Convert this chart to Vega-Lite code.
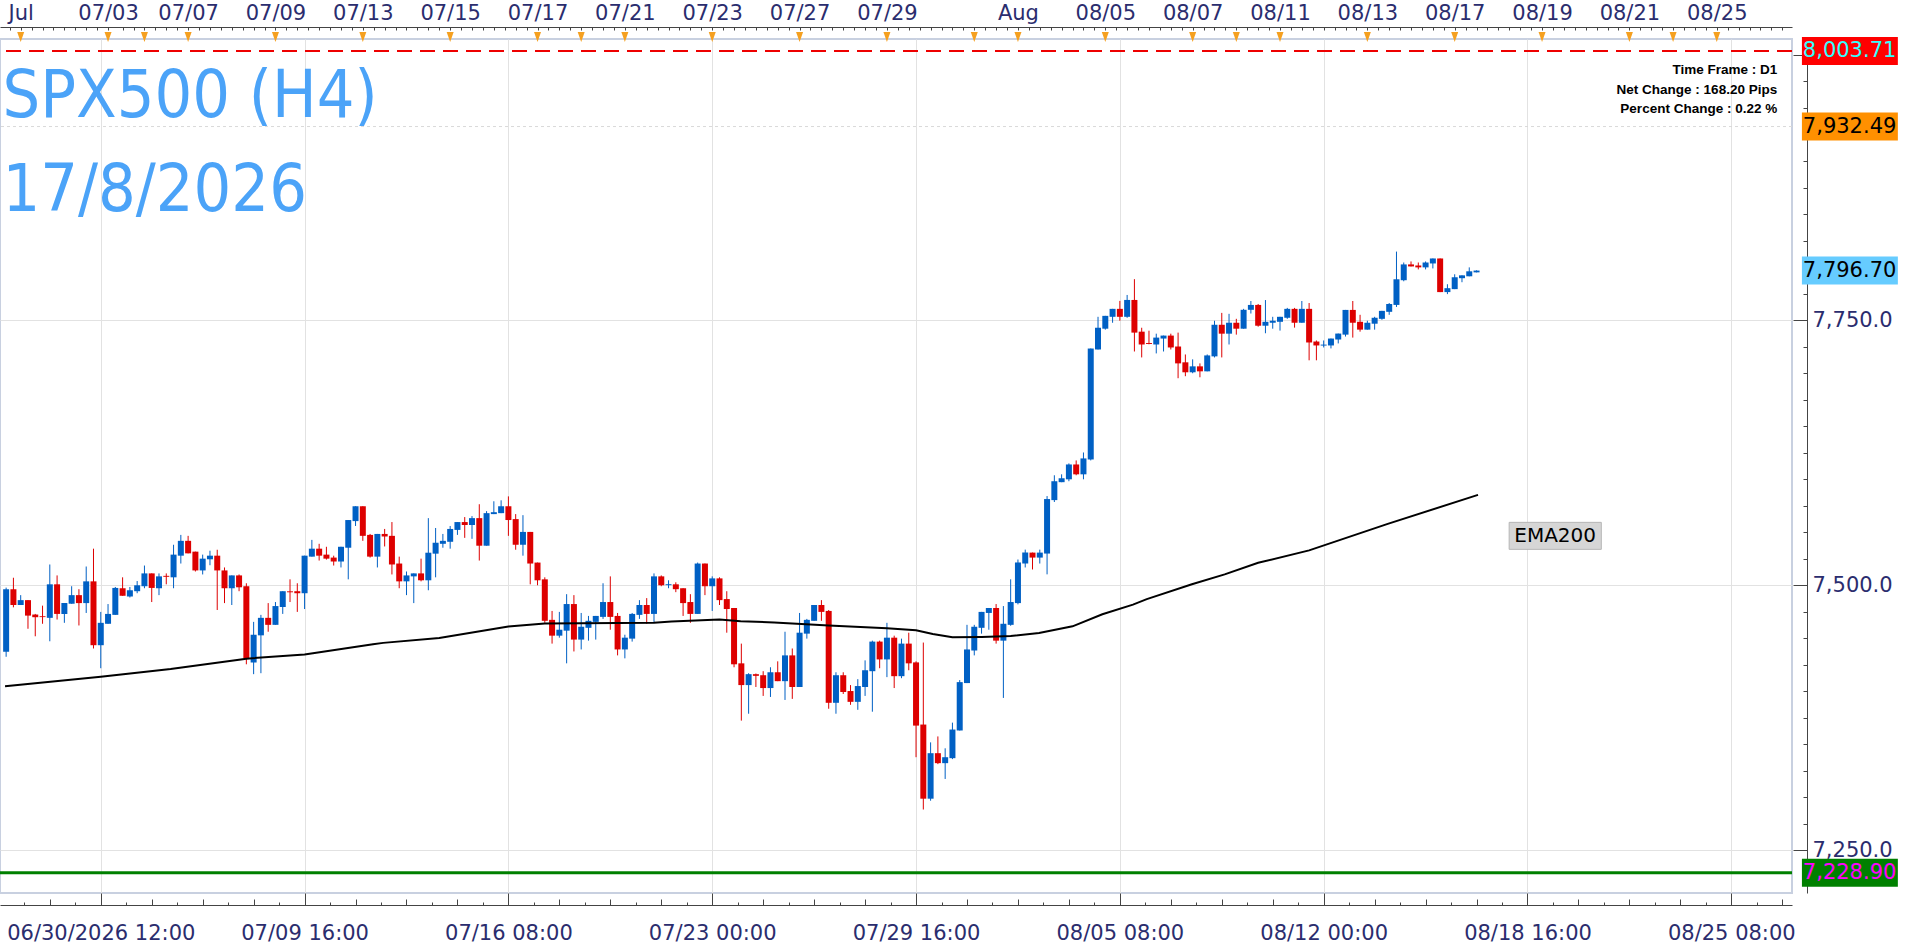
{
  "$schema": "https://vega.github.io/schema/vega-lite/v6.json",
  "width": 1792,
  "height": 854,
  "autosize": {"type": "none"},
  "padding": {"left": 0, "top": 39, "right": 117, "bottom": 55},
  "background": "white",
  "config": {"view": {"stroke": "#c8d0e0", "strokeWidth": 2}},
  "datasets": {
    "candles": [
      {"k":0,"o":7437.3,"h":7497.8,"l":7432.6,"c":7496.3},
      {"k":1,"o":7496.3,"h":7507.1,"l":7479.2,"c":7481.4},
      {"k":2,"o":7481.4,"h":7490.7,"l":7481.4,"c":7486.0},
      {"k":3,"o":7486.0,"h":7486.0,"l":7459.0,"c":7471.4},
      {"k":4,"o":7472.4,"h":7473.0,"l":7451.9,"c":7469.9},
      {"k":5,"o":7470.8,"h":7480.8,"l":7463.7,"c":7470.0},
      {"k":6,"o":7469.3,"h":7519.6,"l":7447.2,"c":7500.9},
      {"k":7,"o":7500.9,"h":7509.3,"l":7467.7,"c":7473.0},
      {"k":8,"o":7473.0,"h":7483.2,"l":7464.6,"c":7483.2},
      {"k":9,"o":7482.6,"h":7499.1,"l":7482.6,"c":7490.7},
      {"k":10,"o":7490.7,"h":7496.3,"l":7462.1,"c":7483.2},
      {"k":11,"o":7483.2,"h":7517.7,"l":7473.9,"c":7503.7},
      {"k":12,"o":7503.7,"h":7534.5,"l":7440.4,"c":7443.5},
      {"k":13,"o":7443.5,"h":7474.9,"l":7421.8,"c":7464.6},
      {"k":14,"o":7463.7,"h":7482.3,"l":7463.7,"c":7473.0},
      {"k":15,"o":7472.1,"h":7498.4,"l":7472.1,"c":7497.5},
      {"k":16,"o":7497.2,"h":7507.5,"l":7490.1,"c":7490.1},
      {"k":17,"o":7489.4,"h":7498.4,"l":7488.5,"c":7495.3},
      {"k":18,"o":7494.4,"h":7504.0,"l":7492.5,"c":7500.0},
      {"k":19,"o":7499.1,"h":7518.6,"l":7497.2,"c":7511.2},
      {"k":20,"o":7511.2,"h":7511.2,"l":7484.2,"c":7497.5},
      {"k":21,"o":7497.2,"h":7511.2,"l":7490.7,"c":7508.4},
      {"k":22,"o":7508.9,"h":7511.2,"l":7500.9,"c":7508.0},
      {"k":23,"o":7507.5,"h":7538.2,"l":7497.2,"c":7528.9},
      {"k":24,"o":7527.9,"h":7547.5,"l":7520.5,"c":7541.9},
      {"k":25,"o":7541.9,"h":7546.6,"l":7530.1,"c":7530.1},
      {"k":26,"o":7531.7,"h":7531.7,"l":7513.0,"c":7514.0},
      {"k":27,"o":7514.0,"h":7528.9,"l":7510.2,"c":7525.1},
      {"k":28,"o":7524.5,"h":7532.6,"l":7518.9,"c":7527.9},
      {"k":29,"o":7527.9,"h":7533.5,"l":7476.7,"c":7514.0},
      {"k":30,"o":7514.0,"h":7516.8,"l":7483.2,"c":7497.2},
      {"k":31,"o":7497.2,"h":7509.3,"l":7481.4,"c":7509.3},
      {"k":32,"o":7509.3,"h":7510.2,"l":7494.4,"c":7498.1},
      {"k":33,"o":7499.1,"h":7501.9,"l":7425.5,"c":7431.1},
      {"k":34,"o":7427.3,"h":7465.5,"l":7416.2,"c":7453.4},
      {"k":35,"o":7452.8,"h":7472.1,"l":7417.1,"c":7469.3},
      {"k":36,"o":7469.3,"h":7483.2,"l":7456.2,"c":7462.7},
      {"k":37,"o":7462.7,"h":7484.2,"l":7462.7,"c":7480.4},
      {"k":38,"o":7479.5,"h":7494.4,"l":7473.0,"c":7494.4},
      {"k":39,"o":7494.3,"h":7505.6,"l":7484.2,"c":7493.4},
      {"k":40,"o":7494.4,"h":7501.9,"l":7474.9,"c":7492.5},
      {"k":41,"o":7492.5,"h":7527.9,"l":7477.6,"c":7527.9},
      {"k":42,"o":7527.0,"h":7542.8,"l":7527.0,"c":7534.5},
      {"k":43,"o":7534.5,"h":7539.1,"l":7523.3,"c":7527.9},
      {"k":44,"o":7528.9,"h":7536.3,"l":7524.2,"c":7525.1},
      {"k":45,"o":7526.1,"h":7527.9,"l":7518.6,"c":7522.4},
      {"k":46,"o":7522.4,"h":7536.3,"l":7516.8,"c":7536.3},
      {"k":47,"o":7535.4,"h":7561.5,"l":7505.6,"c":7561.5},
      {"k":48,"o":7560.5,"h":7574.5,"l":7555.9,"c":7574.5},
      {"k":49,"o":7574.5,"h":7574.5,"l":7541.9,"c":7546.6},
      {"k":50,"o":7547.5,"h":7548.4,"l":7526.1,"c":7527.0},
      {"k":51,"o":7527.0,"h":7548.4,"l":7516.8,"c":7548.4},
      {"k":52,"o":7548.4,"h":7553.1,"l":7536.6,"c":7546.0},
      {"k":53,"o":7546.6,"h":7559.6,"l":7510.2,"c":7519.6},
      {"k":54,"o":7520.5,"h":7527.0,"l":7497.2,"c":7503.7},
      {"k":55,"o":7503.7,"h":7513.0,"l":7490.7,"c":7509.3},
      {"k":56,"o":7508.4,"h":7511.2,"l":7483.2,"c":7511.2},
      {"k":57,"o":7511.2,"h":7525.1,"l":7503.7,"c":7504.7},
      {"k":58,"o":7504.7,"h":7563.3,"l":7495.3,"c":7530.7},
      {"k":59,"o":7529.8,"h":7554.0,"l":7507.5,"c":7540.1},
      {"k":60,"o":7539.1,"h":7548.4,"l":7535.4,"c":7541.9},
      {"k":61,"o":7541.0,"h":7555.9,"l":7534.5,"c":7553.1},
      {"k":62,"o":7552.2,"h":7559.6,"l":7547.5,"c":7559.6},
      {"k":63,"o":7559.6,"h":7564.3,"l":7544.7,"c":7556.8},
      {"k":64,"o":7556.8,"h":7565.2,"l":7543.8,"c":7563.3},
      {"k":65,"o":7563.3,"h":7576.4,"l":7523.3,"c":7537.3},
      {"k":66,"o":7537.3,"h":7569.9,"l":7537.3,"c":7568.0},
      {"k":67,"o":7567.1,"h":7579.2,"l":7567.1,"c":7568.9},
      {"k":68,"o":7568.0,"h":7580.1,"l":7568.0,"c":7574.5},
      {"k":69,"o":7574.5,"h":7583.8,"l":7546.6,"c":7561.5},
      {"k":70,"o":7562.4,"h":7567.1,"l":7533.5,"c":7538.2},
      {"k":71,"o":7538.2,"h":7566.1,"l":7527.9,"c":7550.3},
      {"k":72,"o":7550.3,"h":7550.3,"l":7500.9,"c":7520.5},
      {"k":73,"o":7521.4,"h":7521.4,"l":7500.0,"c":7504.7},
      {"k":74,"o":7505.6,"h":7507.5,"l":7464.6,"c":7466.5},
      {"k":75,"o":7467.4,"h":7475.8,"l":7445.0,"c":7452.5},
      {"k":76,"o":7452.5,"h":7474.9,"l":7450.6,"c":7458.1},
      {"k":77,"o":7457.2,"h":7491.6,"l":7426.4,"c":7482.3},
      {"k":78,"o":7482.3,"h":7490.7,"l":7437.6,"c":7448.8},
      {"k":79,"o":7448.8,"h":7473.9,"l":7439.5,"c":7460.9},
      {"k":80,"o":7459.9,"h":7471.1,"l":7447.8,"c":7466.5},
      {"k":81,"o":7465.5,"h":7471.1,"l":7448.8,"c":7471.1},
      {"k":82,"o":7470.2,"h":7501.9,"l":7468.3,"c":7484.2},
      {"k":83,"o":7484.2,"h":7508.4,"l":7458.1,"c":7470.2},
      {"k":84,"o":7471.1,"h":7473.9,"l":7433.9,"c":7439.5},
      {"k":85,"o":7439.5,"h":7453.4,"l":7431.1,"c":7450.6},
      {"k":86,"o":7449.7,"h":7473.9,"l":7446.9,"c":7473.0},
      {"k":87,"o":7472.1,"h":7486.0,"l":7468.3,"c":7481.4},
      {"k":88,"o":7481.4,"h":7487.9,"l":7463.7,"c":7473.0},
      {"k":89,"o":7473.0,"h":7511.2,"l":7464.6,"c":7508.4},
      {"k":90,"o":7508.4,"h":7509.3,"l":7499.1,"c":7500.0},
      {"k":91,"o":7500.1,"h":7504.7,"l":7497.2,"c":7501.0},
      {"k":92,"o":7500.9,"h":7502.8,"l":7493.5,"c":7496.3},
      {"k":93,"o":7497.2,"h":7497.2,"l":7471.1,"c":7483.2},
      {"k":94,"o":7484.2,"h":7491.6,"l":7464.6,"c":7473.0},
      {"k":95,"o":7473.0,"h":7521.4,"l":7473.0,"c":7520.5},
      {"k":96,"o":7520.5,"h":7520.5,"l":7490.7,"c":7499.1},
      {"k":97,"o":7499.1,"h":7508.4,"l":7475.8,"c":7506.5},
      {"k":98,"o":7506.5,"h":7507.5,"l":7481.4,"c":7486.0},
      {"k":99,"o":7487.0,"h":7494.4,"l":7455.3,"c":7477.6},
      {"k":100,"o":7478.6,"h":7478.6,"l":7422.7,"c":7425.5},
      {"k":101,"o":7426.4,"h":7445.0,"l":7372.4,"c":7405.9},
      {"k":102,"o":7405.9,"h":7417.1,"l":7378.9,"c":7416.2},
      {"k":103,"o":7416.2,"h":7416.8,"l":7404.1,"c":7414.6},
      {"k":104,"o":7415.2,"h":7419.0,"l":7395.7,"c":7403.1},
      {"k":105,"o":7403.1,"h":7422.7,"l":7394.7,"c":7418.0},
      {"k":106,"o":7418.0,"h":7428.3,"l":7409.6,"c":7409.6},
      {"k":107,"o":7409.6,"h":7456.2,"l":7391.9,"c":7433.9},
      {"k":108,"o":7433.9,"h":7440.4,"l":7392.9,"c":7404.1},
      {"k":109,"o":7404.1,"h":7473.9,"l":7404.1,"c":7455.3},
      {"k":110,"o":7454.4,"h":7468.3,"l":7449.7,"c":7467.4},
      {"k":111,"o":7466.5,"h":7481.4,"l":7466.5,"c":7481.4},
      {"k":112,"o":7481.4,"h":7486.0,"l":7466.5,"c":7474.9},
      {"k":113,"o":7475.8,"h":7476.7,"l":7383.6,"c":7389.2},
      {"k":114,"o":7389.2,"h":7418.0,"l":7378.9,"c":7415.2},
      {"k":115,"o":7415.2,"h":7418.0,"l":7397.5,"c":7399.4},
      {"k":116,"o":7400.3,"h":7405.9,"l":7387.3,"c":7390.1},
      {"k":117,"o":7390.1,"h":7411.5,"l":7382.6,"c":7405.0},
      {"k":118,"o":7404.1,"h":7429.2,"l":7395.7,"c":7419.9},
      {"k":119,"o":7419.0,"h":7447.8,"l":7380.8,"c":7446.9},
      {"k":120,"o":7446.9,"h":7447.8,"l":7421.8,"c":7430.1},
      {"k":121,"o":7430.1,"h":7464.6,"l":7413.4,"c":7450.6},
      {"k":122,"o":7450.6,"h":7452.5,"l":7403.1,"c":7414.3},
      {"k":123,"o":7414.3,"h":7449.7,"l":7412.4,"c":7445.0},
      {"k":124,"o":7445.0,"h":7455.3,"l":7419.9,"c":7426.4},
      {"k":125,"o":7427.3,"h":7428.3,"l":7337.9,"c":7367.7},
      {"k":126,"o":7368.7,"h":7446.0,"l":7288.6,"c":7298.8},
      {"k":127,"o":7298.8,"h":7351.9,"l":7296.9,"c":7341.7},
      {"k":128,"o":7341.7,"h":7357.5,"l":7331.4,"c":7332.3},
      {"k":129,"o":7332.3,"h":7346.3,"l":7317.4,"c":7337.9},
      {"k":130,"o":7337.0,"h":7370.5,"l":7336.1,"c":7364.0},
      {"k":131,"o":7363.1,"h":7410.6,"l":7363.1,"c":7408.7},
      {"k":132,"o":7407.8,"h":7462.7,"l":7407.8,"c":7439.5},
      {"k":133,"o":7438.5,"h":7462.7,"l":7433.9,"c":7460.9},
      {"k":134,"o":7459.9,"h":7474.9,"l":7454.4,"c":7474.9},
      {"k":135,"o":7473.9,"h":7478.6,"l":7458.1,"c":7478.6},
      {"k":136,"o":7478.6,"h":7482.3,"l":7445.0,"c":7447.8},
      {"k":137,"o":7447.8,"h":7480.4,"l":7393.8,"c":7463.7},
      {"k":138,"o":7462.7,"h":7505.6,"l":7461.8,"c":7484.2},
      {"k":139,"o":7483.2,"h":7524.3,"l":7482.0,"c":7521.5},
      {"k":140,"o":7520.5,"h":7533.6,"l":7516.8,"c":7530.8},
      {"k":141,"o":7530.8,"h":7530.8,"l":7514.9,"c":7526.1},
      {"k":142,"o":7526.1,"h":7533.6,"l":7520.5,"c":7530.8},
      {"k":143,"o":7529.9,"h":7584.1,"l":7510.3,"c":7581.3},
      {"k":144,"o":7580.3,"h":7603.7,"l":7578.5,"c":7598.1},
      {"k":145,"o":7597.2,"h":7604.6,"l":7597.2,"c":7600.9},
      {"k":146,"o":7599.9,"h":7614.9,"l":7598.1,"c":7613.9},
      {"k":147,"o":7613.9,"h":7617.7,"l":7603.7,"c":7604.6},
      {"k":148,"o":7604.6,"h":7625.2,"l":7599.9,"c":7619.6},
      {"k":149,"o":7618.6,"h":7723.2,"l":7617.7,"c":7723.2},
      {"k":150,"o":7722.3,"h":7753.1,"l":7722.3,"c":7742.8},
      {"k":151,"o":7741.9,"h":7754.0,"l":7741.0,"c":7754.0},
      {"k":152,"o":7753.1,"h":7760.6,"l":7747.5,"c":7760.6},
      {"k":153,"o":7760.6,"h":7768.1,"l":7749.4,"c":7753.1},
      {"k":154,"o":7753.1,"h":7773.7,"l":7752.2,"c":7769.0},
      {"k":155,"o":7769.0,"h":7788.6,"l":7720.4,"c":7738.2},
      {"k":156,"o":7739.1,"h":7742.8,"l":7714.8,"c":7727.0},
      {"k":157,"o":7728.4,"h":7740.0,"l":7727.2,"c":7727.5},
      {"k":158,"o":7727.0,"h":7737.2,"l":7718.6,"c":7733.5},
      {"k":159,"o":7732.6,"h":7735.4,"l":7720.4,"c":7735.4},
      {"k":160,"o":7735.4,"h":7737.2,"l":7722.3,"c":7724.2},
      {"k":161,"o":7725.1,"h":7738.2,"l":7695.2,"c":7709.2},
      {"k":162,"o":7710.2,"h":7717.6,"l":7697.1,"c":7700.8},
      {"k":163,"o":7700.8,"h":7713.0,"l":7699.9,"c":7706.4},
      {"k":164,"o":7706.4,"h":7709.2,"l":7696.1,"c":7701.7},
      {"k":165,"o":7701.7,"h":7717.6,"l":7701.7,"c":7716.7},
      {"k":166,"o":7715.8,"h":7749.4,"l":7714.8,"c":7745.6},
      {"k":167,"o":7745.6,"h":7756.8,"l":7714.8,"c":7737.2},
      {"k":168,"o":7737.2,"h":7755.9,"l":7727.0,"c":7747.5},
      {"k":169,"o":7747.5,"h":7751.2,"l":7736.3,"c":7741.9},
      {"k":170,"o":7741.9,"h":7760.6,"l":7741.9,"c":7759.7},
      {"k":171,"o":7759.7,"h":7768.0,"l":7756.2,"c":7764.3},
      {"k":172,"o":7764.3,"h":7765.2,"l":7743.8,"c":7744.7},
      {"k":173,"o":7744.7,"h":7768.9,"l":7737.6,"c":7748.4},
      {"k":174,"o":7747.5,"h":7753.1,"l":7741.9,"c":7749.4},
      {"k":175,"o":7748.4,"h":7753.1,"l":7740.1,"c":7753.1},
      {"k":176,"o":7752.2,"h":7761.5,"l":7751.2,"c":7760.6},
      {"k":177,"o":7760.6,"h":7761.5,"l":7742.9,"c":7747.5},
      {"k":178,"o":7747.5,"h":7768.0,"l":7747.5,"c":7760.6},
      {"k":179,"o":7760.6,"h":7766.1,"l":7712.1,"c":7728.9},
      {"k":180,"o":7729.8,"h":7730.8,"l":7712.1,"c":7726.1},
      {"k":181,"o":7726.0,"h":7730.8,"l":7724.2,"c":7726.9},
      {"k":182,"o":7726.1,"h":7732.6,"l":7723.3,"c":7732.6},
      {"k":183,"o":7731.7,"h":7737.3,"l":7728.0,"c":7737.3},
      {"k":184,"o":7736.3,"h":7759.6,"l":7734.5,"c":7759.6},
      {"k":185,"o":7759.6,"h":7768.0,"l":7733.5,"c":7747.5},
      {"k":186,"o":7748.4,"h":7755.0,"l":7739.1,"c":7741.0},
      {"k":187,"o":7741.0,"h":7749.4,"l":7741.0,"c":7747.5},
      {"k":188,"o":7746.6,"h":7753.1,"l":7741.0,"c":7752.2},
      {"k":189,"o":7751.2,"h":7758.7,"l":7750.3,"c":7758.7},
      {"k":190,"o":7757.8,"h":7766.1,"l":7755.0,"c":7765.2},
      {"k":191,"o":7764.3,"h":7814.6,"l":7762.4,"c":7788.5},
      {"k":192,"o":7787.6,"h":7804.3,"l":7786.6,"c":7802.5},
      {"k":193,"o":7802.5,"h":7805.3,"l":7800.6,"c":7800.6},
      {"k":194,"o":7801.5,"h":7804.3,"l":7797.8,"c":7799.7},
      {"k":195,"o":7799.7,"h":7805.3,"l":7797.8,"c":7804.3},
      {"k":196,"o":7803.4,"h":7808.1,"l":7798.7,"c":7808.1},
      {"k":197,"o":7808.1,"h":7808.1,"l":7776.4,"c":7776.4},
      {"k":198,"o":7776.4,"h":7783.8,"l":7774.5,"c":7780.1},
      {"k":199,"o":7779.2,"h":7793.2,"l":7779.2,"c":7790.4},
      {"k":200,"o":7789.5,"h":7792.2,"l":7785.7,"c":7792.2},
      {"k":201,"o":7791.3,"h":7799.7,"l":7791.3,"c":7796.0},
      {"k":202,"o":7795.0,"h":7796.9,"l":7795.0,"c":7796.7}
    ],
    "ema": [
      {"k":-0.15,"v":7404.7},{"k":13,"v":7413.7},{"k":22.6,"v":7421.1},{"k":33,"v":7430.8},
      {"k":41,"v":7434.8},{"k":50.4,"v":7444.4},{"k":51.8,"v":7445.7},{"k":59.5,"v":7450.3},
      {"k":69,"v":7461.2},{"k":74,"v":7464.0},{"k":89,"v":7464.6},{"k":91.4,"v":7465.8},
      {"k":98,"v":7467.7},{"k":100.9,"v":7466.2},{"k":105.5,"v":7464.9},{"k":113,"v":7462.1},
      {"k":121,"v":7459.6},{"k":125,"v":7457.5},{"k":127.3,"v":7454.0},{"k":130,"v":7450.9},
      {"k":134,"v":7451.3},{"k":138,"v":7452.2},{"k":141.9,"v":7455.0},{"k":146.5,"v":7461.3},
      {"k":150.6,"v":7472.7},{"k":154.8,"v":7481.8},{"k":156.7,"v":7486.9},{"k":162.9,"v":7500.9},
      {"k":167.4,"v":7510.3},{"k":172,"v":7521.2},{"k":179,"v":7532.9},{"k":189.8,"v":7557.9},
      {"k":202.2,"v":7585.2}
    ],
    "days": [
      {"k":2},{"k":14},{"k":19},{"k":25},{"k":37},{"k":49},{"k":61},{"k":73},{"k":79},{"k":85},
      {"k":97},{"k":109},{"k":121},{"k":133},{"k":139},{"k":151},{"k":163},{"k":169},{"k":175},
      {"k":187},{"k":199},{"k":211},{"k":223},{"k":229},{"k":235}
    ],
    "levels": [
      {"p":8003.71,"t":"8,003.71","kind":"high"},
      {"p":7932.49,"t":"7,932.49","kind":"pivot"},
      {"p":7796.70,"t":"7,796.70","kind":"last"},
      {"p":7228.90,"t":"7,228.90","kind":"low"}
    ]
  },
  "resolve": {"axis": {"x": "independent", "y": "independent"}},
  "layer": [
    {
      "data": {"name": "candles"},
      "mark": {"type": "bar", "size": 6, "opacity": 0},
      "encoding": {
        "x": {"field": "k", "type": "quantitative", "scale": {"domain": [-0.156, 244.65], "nice": false, "zero": false}, "axis": null},
        "y": {
          "field": "o", "type": "quantitative",
          "scale": {"domain": [7214.6, 8010.3], "nice": false, "zero": false},
          "axis": {
            "orient": "right", "offset": 15, "title": null,
            "values": [7225,7250,7275,7300,7325,7350,7375,7400,7425,7450,7475,7500,7525,7550,7575,7600,7625,7650,7675,7700,7725,7750,7775,7800,7825,7850,7875,7900,7925,7950,7975,8000],
            "labelExpr": "datum.value==7250||datum.value==7500||datum.value==7750?format(datum.value, ',.1f'):''",
            "grid": true, "gridColor": "#e2e2e2",
            "gridOpacity": {"condition": {"test": "datum.value==7250||datum.value==7500||datum.value==7750", "value": 1}, "value": 0},
            "tickSize": {"condition": {"test": "datum.value % 250 == 0", "value": -14}, "value": -4},
            "tickColor": "#444444", "domainColor": "#444444",
            "labelFont": "DejaVu Sans", "labelFontSize": 21, "labelColor": "#2b2d6e",
            "labelPadding": 19, "labelFlush": false, "labelOverlap": false, "labelBaseline": "middle", "labelAlign": "left"
          }
        },
        "y2": {"field": "c"}
      }
    },
    {
      "data": {"name": "levels"},
      "transform": [{"filter": "datum.kind == 'pivot'"}],
      "mark": {"type": "rule", "color": "#d9d9d9", "strokeWidth": 1, "strokeDash": [3, 3]},
      "encoding": {"y": {"field": "p", "type": "quantitative", "axis": null}}
    },
    {
      "data": {"name": "levels"},
      "transform": [{"filter": "datum.kind == 'low'"}],
      "mark": {"type": "rule", "color": "#008000", "strokeWidth": 3},
      "encoding": {"y": {"field": "p", "type": "quantitative", "axis": null}}
    },
    {
      "data": {"name": "levels"},
      "transform": [{"filter": "datum.kind == 'high'"}],
      "mark": {"type": "rule", "color": "#ee0000", "strokeWidth": 2, "strokeDash": [15, 8]},
      "encoding": {"y": {"field": "p", "type": "quantitative", "axis": null}}
    },
    {
      "data": {"name": "candles"},
      "mark": {"type": "rule", "strokeWidth": 1},
      "encoding": {
        "x": {
          "field": "k", "type": "quantitative",
          "scale": {"domain": [-0.156, 244.65], "nice": false, "zero": false},
          "axis": {
            "orient": "top", "offset": 12, "title": null, "grid": false,
            "values": [0.5,2,3.5,5,6.5,8,9.5,11,12.5,14,16,17.5,19,20.5,22,23.5,25,26.5,28,29.5,31,32.5,34,35.5,37,38.5,40,41.5,43,44.5,46,47.5,49,50.5,52,53.5,55,56.5,58,59.5,61,62.5,64,65.5,67,68.5,70,71.5,73,74.5,76,77.5,79,80.5,82,83.5,85,86.5,88,89.5,91,92.5,94,95.5,97,98.5,100,101.5,103,104.5,106,107.5,109,110.5,112,113.5,115,116.5,118,119.5,121,122.5,124,125.5,127,128.5,130,131.5,133,134.5,136,137.5,139,140.5,142,143.5,145,146.5,148,149.5,151,152.5,154,155.5,157,158.5,160,161.5,163,164.5,166,167.5,169,170.5,172,173.5,175,176.5,178,179.5,181,182.5,184,185.5,187,188.5,190,191.5,193,194.5,196,197.5,199,200.5,202,203.5,205,206.5,208,209.5,211,212.5,214,215.5,217,218.5,220,221.5,223,224.5,226,227.5,229,230.5,232,233.5,235,236.5,238,239.5,241,242.5,244],
            "labelExpr": "datum.value==2?'Jul':datum.value==14?'07/03':datum.value==25?'07/07':datum.value==37?'07/09':datum.value==49?'07/13':datum.value==61?'07/15':datum.value==73?'07/17':datum.value==85?'07/21':datum.value==97?'07/23':datum.value==109?'07/27':datum.value==121?'07/29':datum.value==139?'Aug':datum.value==151?'08/05':datum.value==163?'08/07':datum.value==175?'08/11':datum.value==187?'08/13':datum.value==199?'08/17':datum.value==211?'08/19':datum.value==223?'08/21':datum.value==235?'08/25':''",
            "tickSize": -3, "tickColor": "#444444", "domainColor": "#444444",
            "labelFont": "DejaVu Sans", "labelFontSize": 21, "labelColor": "#2b2d6e",
            "labelPadding": 7, "labelFlush": false, "labelOverlap": false, "labelLimit": 0
          }
        },
        "y": {"field": "l", "type": "quantitative", "axis": null},
        "y2": {"field": "h"},
        "color": {"condition": {"test": "datum.c >= datum.o", "value": "#0060c4"}, "value": "#dd0000"}
      }
    },
    {
      "data": {"name": "candles"},
      "mark": {"type": "bar", "size": 6},
      "encoding": {
        "x": {
          "field": "k", "type": "quantitative",
          "scale": {"domain": [-0.156, 244.65], "nice": false, "zero": false},
          "axis": {
            "orient": "bottom", "offset": 12, "title": null,
            "values": [2.5,6,9.5,13,16.5,20,23.5,27,30.5,34,37.5,41,44.5,48,51.5,55,58.5,62,65.5,69,72.5,76,79.5,83,86.5,90,93.5,97,100.5,104,107.5,111,114.5,118,121.5,125,128.5,132,135.5,139,142.5,146,149.5,153,156.5,160,163.5,167,170.5,174,177.5,181,184.5,188,191.5,195,198.5,202,205.5,209,212.5,216,219.5,223,226.5,230,233.5,237,240.5,244],
            "labelExpr": "datum.value==13?'06/30/2026 12:00':datum.value==41?'07/09 16:00':datum.value==69?'07/16 08:00':datum.value==97?'07/23 00:00':datum.value==125?'07/29 16:00':datum.value==153?'08/05 08:00':datum.value==181?'08/12 00:00':datum.value==209?'08/18 16:00':datum.value==237?'08/25 08:00':''",
            "grid": true, "gridColor": "#e2e2e2",
            "gridOpacity": {"condition": {"test": "(datum.value - 13) % 28 == 0", "value": 1}, "value": 0},
            "tickSize": {"condition": [{"test": "(datum.value - 13) % 28 == 0", "value": -12}, {"test": "(datum.value - 13) % 7 == 0", "value": -6}], "value": -3},
            "tickColor": "#444444", "domainColor": "#444444",
            "labelFont": "DejaVu Sans", "labelFontSize": 21, "labelColor": "#2b2d6e",
            "labelPadding": 29, "labelFlush": false, "labelOverlap": false, "labelLimit": 0
          }
        },
        "y": {"field": "o", "type": "quantitative", "axis": null},
        "y2": {"field": "c"},
        "color": {"condition": {"test": "datum.c >= datum.o", "value": "#0060c4"}, "value": "#dd0000"}
      }
    },
    {
      "data": {"name": "ema"},
      "mark": {"type": "line", "color": "#000000", "strokeWidth": 2},
      "encoding": {
        "x": {"field": "k", "type": "quantitative", "axis": null},
        "y": {"field": "v", "type": "quantitative", "axis": null}
      }
    },
    {
      "data": {"name": "days"},
      "mark": {"type": "point", "shape": "M-0.7,-1L0.7,-1L0,1Z", "size": 100, "filled": true, "fill": "#f5a020", "stroke": null, "opacity": 1},
      "encoding": {
        "x": {"field": "k", "type": "quantitative", "axis": null},
        "y": {"datum": 8016.8, "axis": null}
      }
    },
    {
      "data": {"name": "levels"},
      "mark": {"type": "bar", "size": 28},
      "encoding": {
        "x": {"datum": 246.7, "axis": null},
        "x2": {"datum": 259.88},
        "y": {"field": "p", "type": "quantitative", "axis": null},
        "color": {"condition": [{"test": "datum.kind=='high'", "value": "#ff0000"}, {"test": "datum.kind=='pivot'", "value": "#ff9000"}, {"test": "datum.kind=='last'", "value": "#66ccff"}], "value": "#008000"}
      }
    },
    {
      "data": {"name": "levels"},
      "mark": {"type": "text", "font": "DejaVu Sans", "fontSize": 21, "align": "center", "baseline": "middle"},
      "encoding": {
        "x": {"datum": 253.25, "axis": null},
        "y": {"field": "p", "type": "quantitative", "axis": null},
        "text": {"field": "t"},
        "color": {"condition": [{"test": "datum.kind=='high'", "value": "#33ffff"}, {"test": "datum.kind=='low'", "value": "#ff00ff"}], "value": "#000000"}
      }
    },
    {
      "data": {"values": [{"t": "EMA200"}]},
      "mark": {"type": "bar", "size": 27, "color": "#d6d6d6", "stroke": "#b5b5b5", "strokeWidth": 1},
      "encoding": {
        "x": {"datum": 206.48, "axis": null},
        "x2": {"datum": 219.14},
        "y": {"datum": 7546.6, "axis": null}
      }
    },
    {
      "data": {"values": [{"t": "EMA200"}]},
      "mark": {"type": "text", "font": "DejaVu Sans", "fontSize": 20, "align": "center", "baseline": "middle", "color": "#000000"},
      "encoding": {
        "x": {"datum": 212.8, "axis": null},
        "y": {"datum": 7546.6, "axis": null},
        "text": {"field": "t"}
      }
    },
    {
      "data": {"values": [{"t": "SPX500 (H4)"}]},
      "mark": {"type": "text", "font": "DejaVu Sans Condensed", "fontSize": 66, "align": "left", "baseline": "alphabetic", "color": "#4ba3f8"},
      "encoding": {
        "x": {"datum": -0.5, "axis": null},
        "y": {"datum": 7941.4, "axis": null},
        "text": {"field": "t"}
      }
    },
    {
      "data": {"values": [{"t": "17/8/2026"}]},
      "mark": {"type": "text", "font": "DejaVu Sans Condensed", "fontSize": 66, "align": "left", "baseline": "alphabetic", "color": "#4ba3f8"},
      "encoding": {
        "x": {"datum": -0.5, "axis": null},
        "y": {"datum": 7852.8, "axis": null},
        "text": {"field": "t"}
      }
    },
    {
      "data": {"values": [{"t": "Time Frame : D1"}]},
      "mark": {"type": "text", "font": "Liberation Sans", "fontWeight": "bold", "fontSize": 13.5, "align": "right", "baseline": "middle", "color": "#000000"},
      "encoding": {
        "x": {"datum": 243.3, "axis": null},
        "y": {"datum": 7986.0, "axis": null},
        "text": {"field": "t"}
      }
    },
    {
      "data": {"values": [{"t": "Net Change : 168.20 Pips"}]},
      "mark": {"type": "text", "font": "Liberation Sans", "fontWeight": "bold", "fontSize": 13.5, "align": "right", "baseline": "middle", "color": "#000000"},
      "encoding": {
        "x": {"datum": 243.3, "axis": null},
        "y": {"datum": 7967.4, "axis": null},
        "text": {"field": "t"}
      }
    },
    {
      "data": {"values": [{"t": "Percent Change : 0.22 %"}]},
      "mark": {"type": "text", "font": "Liberation Sans", "fontWeight": "bold", "fontSize": 13.5, "align": "right", "baseline": "middle", "color": "#000000"},
      "encoding": {
        "x": {"datum": 243.3, "axis": null},
        "y": {"datum": 7948.8, "axis": null},
        "text": {"field": "t"}
      }
    }
  ]
}
